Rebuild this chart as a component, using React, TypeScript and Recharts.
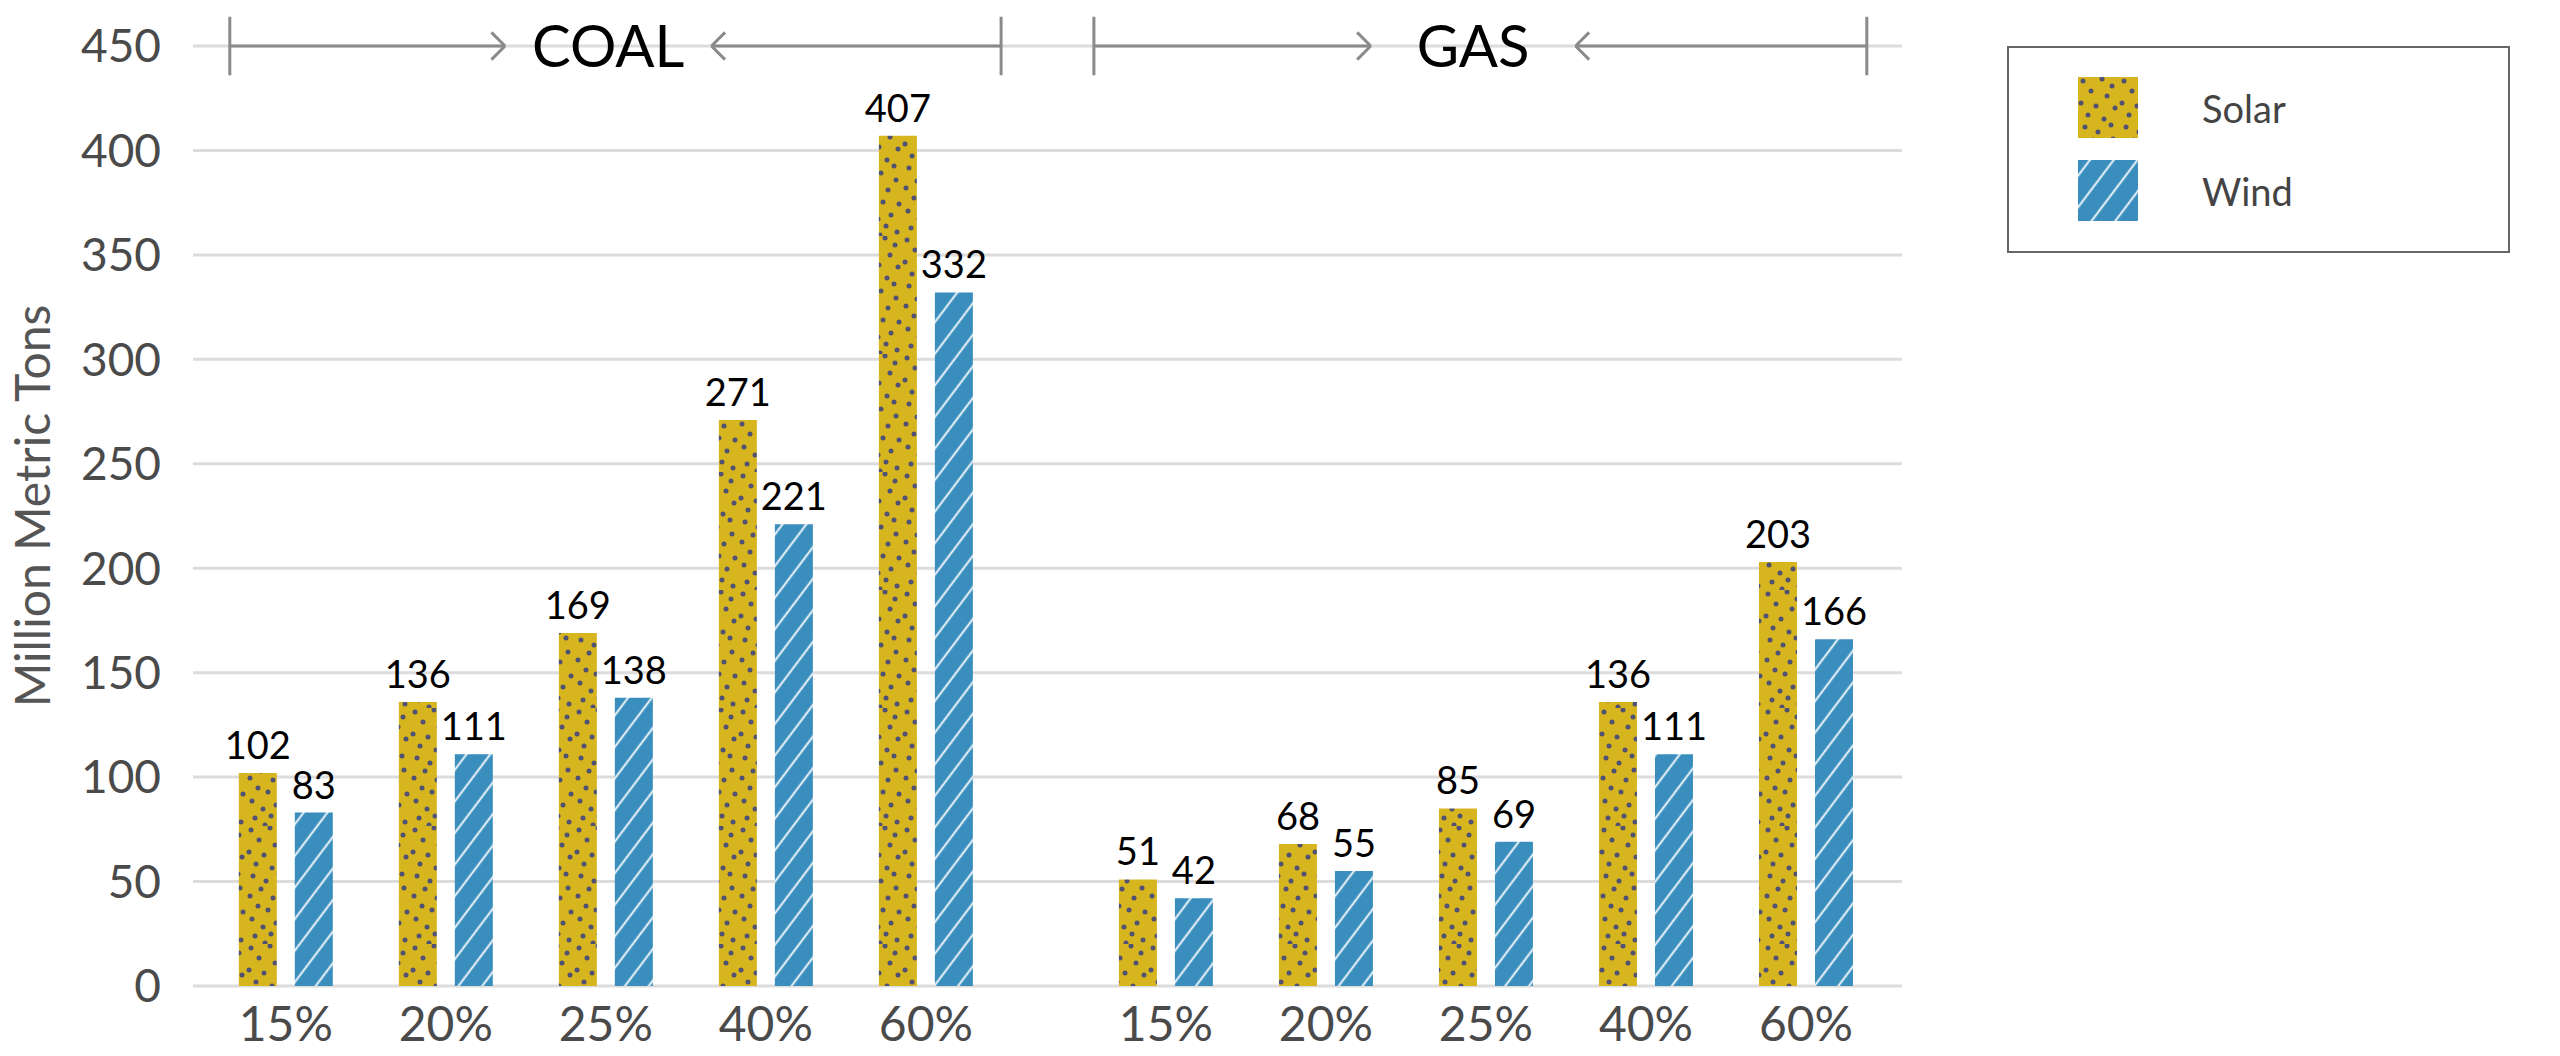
import React from "react";
import {
  BarChart,
  Bar,
  XAxis,
  YAxis,
  CartesianGrid,
  LabelList,
  Legend,
  ReferenceLine,
  ReferenceDot,
  ReferenceArea,
} from "recharts";

const CATEGORIES = ["15%", "20%", "25%", "40%", "60%", "15%", "20%", "25%", "40%", "60%"];
const SOLAR = [102, 136, 169, 271, 407, 51, 68, 85, 136, 203];
const WIND = [83, 111, 138, 221, 332, 42, 55, 69, 111, 166];
const Y_TICKS = [0, 50, 100, 150, 200, 250, 300, 350, 400, 450];

const GOLD = "#d7b51f";
const BLUE = "#3a8ebd";
const FONT = "Lato, 'Open Sans', sans-serif";

// half-step gap between the coal and gas groups
const xOf = (i: number) => (i < 5 ? i : i + 0.5);

const data = CATEGORIES.map((c, i) => ({
  x: xOf(i),
  label: c,
  solar: SOLAR[i],
  wind: WIND[i],
}));
const X_TICKS = data.map((d) => d.x);

// hand-placed stipple for the solar fill (one 41x118 tile)
const DOTS: [number, number][] = [
  [5, 4], [24, 2], [34, 9], [13, 14], [29, 19], [3, 26], [18, 29], [37, 31],
  [10, 38], [26, 42], [7, 50], [33, 48], [20, 55], [15, 63], [35, 62], [4, 70],
  [27, 72], [12, 80], [22, 84], [38, 86], [6, 93], [30, 97], [17, 101], [9, 110],
  [25, 108], [36, 114], [19, 117],
];

function Patterns() {
  return (
    <svg width={0} height={0} style={{ position: "absolute" }}>
      <defs>
        <pattern id="solarDots" patternUnits="userSpaceOnUse" width={41} height={118}>
          <rect width={41} height={118} fill={GOLD} />
          {DOTS.map(([cx, cy], i) => (
            <circle key={i} cx={cx} cy={cy} r={2.5} fill="#4f5270" />
          ))}
        </pattern>
        <pattern
          id="windHatch"
          patternUnits="userSpaceOnUse"
          width={19}
          height={19}
          patternTransform="rotate(37)"
        >
          <rect width={19} height={19} fill={BLUE} />
          <line x1={9.5} y1={0} x2={9.5} y2={19} stroke="#fff" strokeWidth={1.8} />
        </pattern>
      </defs>
    </svg>
  );
}

const YTitle = () => (
  <text
    x={31}
    y={506}
    transform="rotate(-90 31 506)"
    textAnchor="middle"
    dominantBaseline="central"
    fontSize={48}
    fontFamily={FONT}
    fill="#555"
  >
    Million Metric Tons
  </text>
);

function LegendBox() {
  const rows = [
    { name: "Solar", fill: "url(#solarDots)" },
    { name: "Wind", fill: "url(#windHatch)" },
  ];
  return (
    <div
      style={{
        width: 499,
        height: 185,
        border: "2px solid #666",
        background: "#fff",
        boxSizing: "content-box",
        paddingTop: 18,
      }}
    >
      {rows.map((r) => (
        <div
          key={r.name}
          style={{ display: "flex", alignItems: "center", height: 83, marginLeft: 69 }}
        >
          <svg width={60} height={61}>
            <rect width={60} height={61} fill={r.fill} />
          </svg>
          <span
            style={{
              marginLeft: 64,
              fontSize: 38,
              fontFamily: FONT,
              color: "#444",
            }}
          >
            {r.name}
          </span>
        </div>
      ))}
    </div>
  );
}

const LINE = "#8a8a8a";
const AH_X = 0.085; // arrow head length in x units
const AH_Y = 6.5; // arrow head half height in y units

function bracket(name: string, x0: number, tipL: number, tipR: number, x1: number) {
  const seg = (a: [number, number], b: [number, number], key: string) => (
    <ReferenceLine
      key={name + key}
      segment={[{ x: a[0], y: a[1] }, { x: b[0], y: b[1] }]}
      stroke={LINE}
      strokeWidth={3}
      ifOverflow="visible"
    />
  );
  return [
    seg([x0, 436], [x0, 464], "t0"),
    seg([x1, 436], [x1, 464], "t1"),
    seg([x0, 450], [tipL, 450], "l"),
    seg([tipR, 450], [x1, 450], "r"),
    seg([tipL - AH_X, 450 + AH_Y], [tipL, 450], "a1"),
    seg([tipL - AH_X, 450 - AH_Y], [tipL, 450], "a2"),
    seg([tipR + AH_X, 450 + AH_Y], [tipR, 450], "b1"),
    seg([tipR + AH_X, 450 - AH_Y], [tipR, 450], "b2"),
    <ReferenceDot
      key={name + "lbl"}
      x={(tipL + tipR) / 2}
      y={450}
      r={0}
      stroke="none"
      fill="none"
      ifOverflow="visible"
      label={{
        value: name,
        position: "center",
        fontSize: 58,
        fontFamily: FONT,
        fill: "#000",
      }}
    />,
  ];
}

export default function App() {
  return (
    <div
      style={{
        position: "absolute",
        left: 0,
        top: 0,
        width: 2560,
        height: 1056,
        background: "#fff",
      }}
    >
      <Patterns />
      <BarChart
        width={2560}
        height={1056}
        data={data}
        margin={{ top: 46, right: 658, bottom: 0, left: 0 }}
        barGap={18}
      >
        <CartesianGrid vertical={false} stroke="#dcdcdc" strokeWidth={3} />
        <ReferenceArea x1={-0.4} x2={9.96} y1={446} y2={454} fill="#fff" fillOpacity={1} stroke="none" />
        <XAxis
          dataKey="x"
          type="number"
          domain={[-0.58, 10.1]}
          ticks={X_TICKS}
          interval={0}
          tickFormatter={(v) => data.find((d) => d.x === v)?.label ?? ""}
          axisLine={false}
          tickLine={false}
          tickSize={0}
          tickMargin={21}
          height={70}
          tick={{ fontSize: 48, fill: "#4a4a4a", fontFamily: FONT }}
        />
        <YAxis
          domain={[0, 450]}
          ticks={Y_TICKS}
          interval={0}
          axisLine={false}
          tickLine={false}
          tickSize={0}
          tickMargin={32}
          width={193}
          tick={{ fontSize: 46, fill: "#4a4a4a", fontFamily: FONT }}
          label={<YTitle />}
        />
        <Legend
          layout="vertical"
          align="center"
          verticalAlign="middle"
          content={() => <LegendBox />}
          wrapperStyle={{ left: 2007, top: 46, width: "auto" }}
        />
        <Bar dataKey="solar" name="Solar" fill="url(#solarDots)" barSize={38} isAnimationActive={false}>
          <LabelList
            dataKey="solar"
            position="top"
            offset={14}
            fill="#000"
            fontSize={38}
            fontFamily={FONT}
          />
        </Bar>
        <Bar dataKey="wind" name="Wind" fill="url(#windHatch)" barSize={38} isAnimationActive={false}>
          <LabelList
            dataKey="wind"
            position="top"
            offset={14}
            fill="#000"
            fontSize={38}
            fontFamily={FONT}
          />
        </Bar>
        {bracket("COAL", -0.35, 1.37, 2.66, 4.47)}
        {bracket("GAS", 5.05, 6.78, 8.06, 9.88)}
      </BarChart>
    </div>
  );
}
